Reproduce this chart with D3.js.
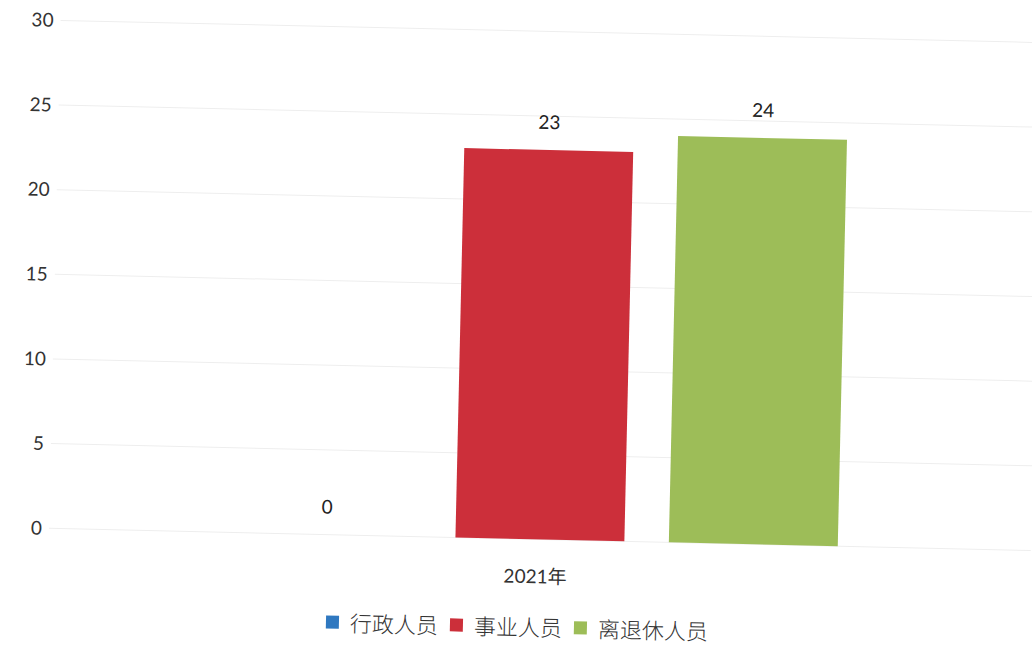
<!DOCTYPE html>
<html>
<head>
<meta charset="utf-8">
<script src="https://cdn.jsdelivr.net/npm/d3@7"></script>
<style>
  body { margin: 0; background: #fff; overflow: hidden; }
  svg { display: block; }
</style>
</head>
<body>
<div id="chart"></div>
<script>
// Dimensions
const width = 1032;
const height = 668;
const SCAN_TILT = 1.3; // the reference is a slightly tilted scan

// Data
const categories = ['2021年'];
const seriesNames = ['行政人员', '事业人员', '离退休人员'];
const seriesValues = [0, 23, 24];
const seriesColours = ['#2f78c0', '#cc2f3a', '#9dbd58'];
const yTicks = [0, 5, 10, 15, 20, 25, 30];

const plot = { left: 61, right: 1043, top: 19, bottom: 527 };

const svg = d3.select('#chart').append('svg')
    .attr('width', width)
    .attr('height', height);

const g = svg.append('g')
    .attr('transform', `rotate(${SCAN_TILT})`);

// Scales
const y = d3.scaleLinear()
    .domain([0, 30])
    .range([plot.bottom, plot.top]);

const x0 = d3.scaleBand()
    .domain(categories)
    .range([plot.left, plot.right])
    .paddingInner(0)
    .paddingOuter(0.324);

const x1 = d3.scaleBand()
    .domain(seriesNames)
    .range([0, x0.bandwidth()])
    .paddingInner(0.2084)
    .paddingOuter(0);

// Gridlines
g.append('g')
    .selectAll('line')
    .data(yTicks)
    .join('line')
    .attr('x1', plot.left)
    .attr('x2', plot.right)
    .attr('y1', d => y(d))
    .attr('y2', d => y(d))
    .attr('stroke', '#eeeeee')
    .attr('stroke-width', 1);

// Y axis labels
const axisLeft = d3.axisLeft(y)
    .tickValues(yTicks)
    .tickSize(0)
    .tickPadding(0);

g.append('g')
    .attr('transform', `translate(54, 0)`)
    .call(axisLeft)
    .call(a => a.select('.domain').remove())
    .selectAll('text')
    .attr('font-family', 'Lato, "Open Sans", sans-serif')
    .attr('font-size', 19)
    .attr('fill', '#333');

// Bars
const rows = seriesNames.map((name, i) => ({ name, value: seriesValues[i], colour: seriesColours[i] }));

const group = g.append('g')
    .attr('transform', `translate(${x0(categories[0])}, 0)`);

group.selectAll('rect')
    .data(rows)
    .join('rect')
    .attr('x', d => x1(d.name))
    .attr('y', d => y(d.value))
    .attr('width', x1.bandwidth())
    .attr('height', d => y(0) - y(d.value))
    .attr('fill', d => d.colour);

// Value labels
group.selectAll('text.value')
    .data(rows)
    .join('text')
    .attr('class', 'value')
    .attr('x', d => x1(d.name) + x1.bandwidth() / 2)
    .attr('y', d => y(d.value) - 21)
    .attr('text-anchor', 'middle')
    .attr('font-family', 'Lato, "Open Sans", sans-serif')
    .attr('font-size', 19)
    .attr('fill', '#222')
    .text(d => d.value);

// Category label
g.append('text')
    .attr('x', x0(categories[0]) + x0.bandwidth() / 2 - 4)
    .attr('y', plot.bottom + 44)
    .attr('text-anchor', 'middle')
    .attr('font-family', 'Lato, "Noto Sans CJK SC", sans-serif')
    .attr('font-size', 19)
    .attr('fill', '#333')
    .text(categories[0]);

// Legend
const legend = g.append('g')
    .attr('transform', `translate(0, 616)`);

const items = legend.selectAll('g')
    .data(rows)
    .join('g');

items.append('rect')
    .attr('width', 13)
    .attr('height', 13)
    .attr('y', -8)
    .attr('fill', d => d.colour);

items.append('text')
    .attr('x', 24)
    .attr('y', 0)
    .attr('dy', '0.35em')
    .attr('font-family', '"Noto Sans CJK SC", sans-serif')
    .attr('font-weight', 300)
    .attr('font-size', 22)
    .attr('fill', '#333')
    .text(d => d.name);

// Lay legend items out side by side and centre them
let offset = 0;
items.each(function() {
    const w = this.getBBox().width;
    d3.select(this).attr('transform', `translate(${offset}, 0)`);
    offset += w + 12;
});
const totalWidth = offset - 12;
legend.attr('transform', `translate(${531 - totalWidth / 2}, 616)`);
</script>
</body>
</html>
